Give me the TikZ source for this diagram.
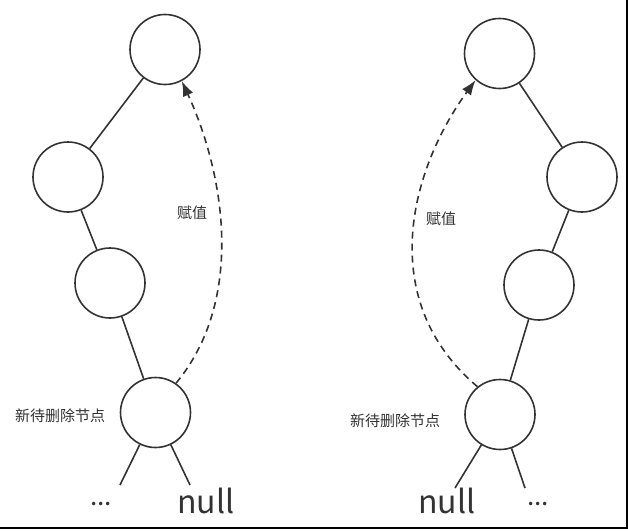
\documentclass[tikz,border=0pt]{standalone}
\usepackage{fontspec}
\setmainfont{Noto Sans CJK SC}
\usetikzlibrary{arrows.meta}
\definecolor{ink}{HTML}{333333}
\begin{document}
\begin{tikzpicture}[x=1pt,y=-1pt,
  treenode/.style={circle,draw=ink,line width=1.6pt,minimum size=70pt,inner sep=0pt,fill=white},
  edge/.style={draw=ink,line width=1.6pt},
  assign/.style={draw=ink,line width=1.6pt,dash pattern=on 7pt off 5pt,-{Latex[length=15pt,width=11pt]}},
  lbl/.style={font=\fontsize{15pt}{16pt}\selectfont,text=ink,inner sep=0pt},
  nulltxt/.style={font=\fontsize{32pt}{34pt}\selectfont,text=ink,inner sep=0pt,anchor=base},
  dots/.style={font=\fontsize{26pt}{28pt}\selectfont,text=ink,inner sep=0pt,anchor=base}]
\useasboundingbox (0,0) rectangle (628,530);
\draw[line width=2pt,black] (0,528) -- (627,528) -- (627,0);
% left tree
\node[treenode] (l1) at (165,49.5) {};
\node[treenode] (l2) at (68,177) {};
\node[treenode] (l3) at (110,283) {};
\node[treenode] (l4) at (155.5,412.5) {};
\coordinate (l4a) at (120,485);
\coordinate (l4b) at (190,485);
\draw[edge] (l1) -- (l2);
\draw[edge] (l2) -- (l3);
\draw[edge] (l3) -- (l4);
\draw[edge] (l4) -- (l4a);
\draw[edge] (l4) -- (l4b);
\node[lbl] (lt) at (60,416) {新待删除节点};
\node[lbl] (la) at (192,213) {赋值};
\node[dots] (ld) at (101,505) {...};
\node[nulltxt] (ln) at (206,513) {null};
\draw[assign] (l4.55) .. controls (245,300) and (225,175) .. (l1.-62);
% right tree
\node[treenode] (r1) at (499.5,53.5) {};
\node[treenode] (r2) at (582,177) {};
\node[treenode] (r3) at (539,285) {};
\node[treenode] (r4) at (500,414.5) {};
\coordinate (r4a) at (455,488);
\coordinate (r4b) at (525,488);
\draw[edge] (r1) -- (r2);
\draw[edge] (r2) -- (r3);
\draw[edge] (r3) -- (r4);
\draw[edge] (r4) -- (r4a);
\draw[edge] (r4) -- (r4b);
\node[lbl] (rt) at (395,421) {新待删除节点};
\node[lbl] (ra) at (441,219) {赋值};
\node[dots] (rd) at (538,505) {...};
\node[nulltxt] (rn) at (447,513) {null};
\draw[assign] (r4.129) .. controls (375,300) and (410,170) .. (r1.228);
\end{tikzpicture}
\end{document}
